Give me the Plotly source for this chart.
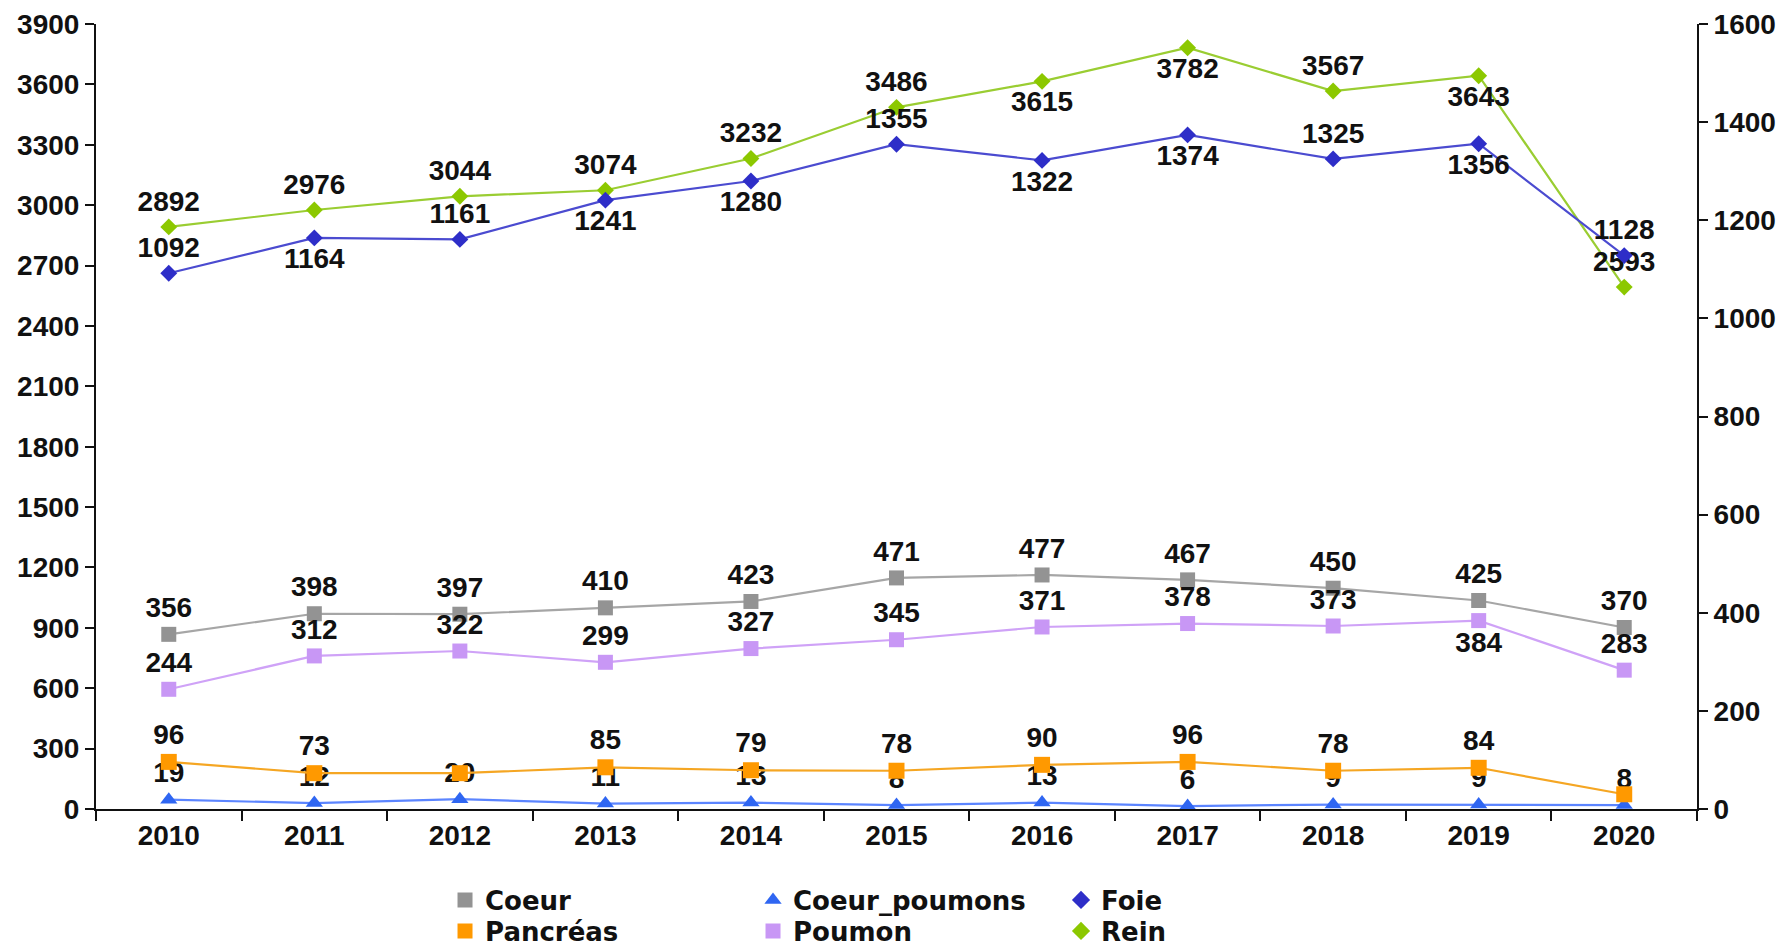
import plotly.graph_objects as go

years = ["2010", "2011", "2012", "2013", "2014", "2015", "2016", "2017", "2018", "2019", "2020"]
coeur = [356, 398, 397, 410, 423, 471, 477, 467, 450, 425, 370]
coeur_poumons = [19, 12, 20, 11, 13, 8, 13, 6, 9, 9, 8]
foie = [1092, 1164, 1161, 1241, 1280, 1355, 1322, 1374, 1325, 1356, 1128]
pancreas = [96, 73, 73, 85, 79, 78, 90, 96, 78, 84, 30]
poumon = [244, 312, 322, 299, 327, 345, 371, 378, 373, 384, 283]
rein = [2892, 2976, 3044, 3074, 3232, 3486, 3615, 3782, 3567, 3643, 2593]

left_ticks = list(range(0, 3901, 300))
right_ticks = list(range(0, 1601, 200))

FONT = "Liberation Sans, Arial, sans-serif"
LEG_FONT = "DejaVu Sans, Verdana, sans-serif"
T, B = "top center", "bottom center"

series = [
    # name, values, axis, line colour, marker colour, symbol, size, label positions, hidden labels, legend
    ("Coeur", coeur, "y2", "#A6A6A6", "#939393", "square", 15, [T] * 11, [], "legend"),
    ("Coeur_poumons", coeur_poumons, "y2", "#5C85FF", "#2F66F2", "triangle-up", 15, [T] * 11, [], "legend"),
    ("Foie", foie, "y2", "#4B4BD0", "#2E2EC8", "diamond", 13,
     [T, B, T, B, B, T, B, B, T, B, T], [], "legend"),
    ("Pancréas", pancreas, "y2", "#F5A623", "#FF9900", "square", 16, [T] * 11, [2, 10], "legend2"),
    ("Poumon", poumon, "y2", "#CFA2F7", "#C897F5", "square", 15, [T] * 9 + [B, T], [], "legend2"),
    ("Rein", rein, "y", "#9ACD32", "#8CC800", "diamond", 13,
     [T, T, T, T, T, T, B, B, T, B, T], [], "legend2"),
]

fig = go.Figure()

order = [5, 0, 1, 2, 3, 4]
for i in order:
    name, vals, ax, lc, mc, sym, sz, pos, hidden, lg = series[i]
    labels = ["" if k in hidden else str(v) for k, v in enumerate(vals)]
    fig.add_trace(go.Scatter(
        x=years, y=vals, yaxis=ax, mode="lines+markers+text", name=name,
        line=dict(color=lc, width=2.2),
        marker=dict(color=mc, symbol=sym, size=sz),
        text=labels, textposition=pos,
        textfont=dict(family=FONT, size=28, color="#111111", weight="bold"),
        cliponaxis=False, showlegend=False, hoverinfo="skip",
    ))

# legend-only marker entries
legend_sizes = {"square": 15, "triangle-up": 15, "diamond": 14}
for name, vals, ax, lc, mc, sym, sz, pos, hidden, lg in series:
    fig.add_trace(go.Scatter(
        x=[None], y=[None], yaxis=ax, mode="markers", name=name,
        marker=dict(color=mc, symbol=sym, size=legend_sizes[sym]),
        showlegend=True, legend=lg, hoverinfo="skip",
    ))

W, H = 1779, 940  # page body has an 8px margin
axis_font = dict(family=FONT, size=28, color="#111111", weight="bold")
legend_common = dict(
    orientation="h", xanchor="left", yanchor="middle", yref="container",
    font=dict(family=LEG_FONT, size=26, color="#111111", weight="bold"),
    entrywidth=263, entrywidthmode="pixels", itemwidth=30,
    bgcolor="rgba(0,0,0,0)", tracegroupgap=0,
)

fig.update_layout(
    width=W, height=H,
    paper_bgcolor="white", plot_bgcolor="white",
    margin=dict(l=88, r=90, t=16, b=139, autoexpand=False),
    showlegend=True,
    xaxis=dict(
        type="category", range=[-0.5, 10.5], tickson="boundaries",
        ticks="outside", ticklen=10, tickwidth=2, tickcolor="#111111",
        showline=True, linecolor="#111111", linewidth=2,
        showgrid=False, zeroline=False, tickfont=axis_font, automargin=False,
        ticklabeloverflow="allow",
    ),
    yaxis=dict(
        range=[0, 3900], tickvals=left_ticks, ticks="outside", ticklen=9,
        tickwidth=2, tickcolor="#111111", showline=True, linecolor="#111111",
        linewidth=2, showgrid=False, zeroline=False, tickfont=axis_font, automargin=False,
        ticklabeloverflow="allow",
    ),
    yaxis2=dict(
        range=[0, 1600], tickvals=right_ticks, overlaying="y", side="right",
        ticks="outside", ticklen=9, tickwidth=2, tickcolor="#111111",
        showline=True, linecolor="#111111", linewidth=2,
        showgrid=False, zeroline=False, tickfont=axis_font, automargin=False,
        ticklabeloverflow="allow",
    ),
    legend=dict(x=0.218, y=1 - 892 / H, **legend_common),
    legend2=dict(x=0.218, y=1 - 923 / H, **legend_common),
)

fig.write_html("out.html")
